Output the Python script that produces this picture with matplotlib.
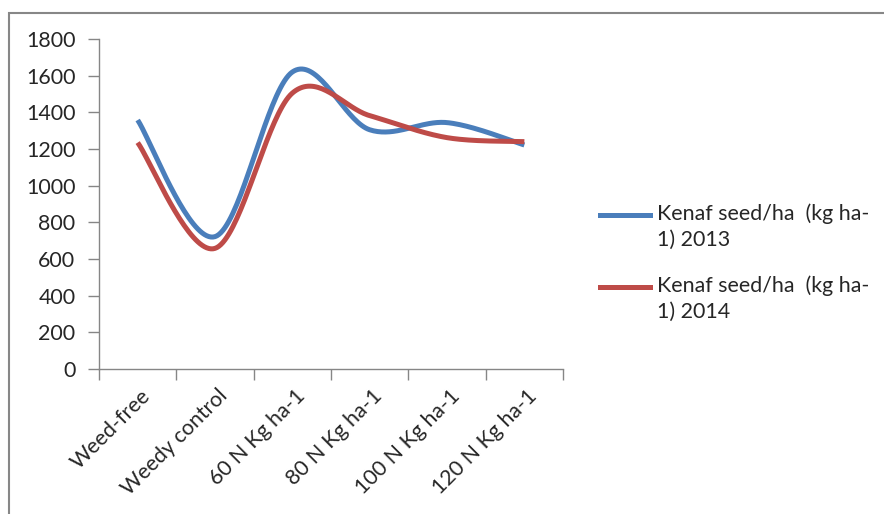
import numpy as np
import matplotlib
matplotlib.use("Agg")
import matplotlib.pyplot as plt
from matplotlib.lines import Line2D
from matplotlib.patches import Rectangle

categories = ["Weed-free", "Weedy control", "60 N Kg ha-1", "80 N Kg ha-1",
              "100 N Kg ha-1", "120 N Kg ha-1"]
seed_2013 = [1358, 722, 1620, 1305, 1344, 1222]
seed_2014 = [1235, 658, 1505, 1382, 1262, 1240]
series_labels = ["Kenaf seed/ha  (kg ha-\n1) 2013", "Kenaf seed/ha  (kg ha-\n1) 2014"]
yticks = [0, 200, 400, 600, 800, 1000, 1200, 1400, 1600, 1800]

BLUE = "#4A7EBB"
RED = "#BE4B48"
GRAY = "#868686"
TXT = "#262626"
FONT = "Lato"
FS = 15.4

plt.rcParams["font.family"] = [FONT, "DejaVu Sans"]


def smooth(xs, ys, n=40):
    """Excel-like Catmull-Rom (Bezier with 1/6 tension) smoothing."""
    P = np.column_stack([xs, ys]).astype(float)
    Pext = np.vstack([P[0], P, P[-1]])
    out = []
    for i in range(len(P) - 1):
        p0, p1, p2, p3 = Pext[i], Pext[i + 1], Pext[i + 2], Pext[i + 3]
        c1 = p1 + (p2 - p0) / 6.0
        c2 = p2 - (p3 - p1) / 6.0
        t = np.linspace(0, 1, n)[:, None]
        seg = ((1 - t) ** 3) * p1 + 3 * ((1 - t) ** 2) * t * c1 + 3 * (1 - t) * t ** 2 * c2 + t ** 3 * p2
        out.append(seg if i == 0 else seg[1:])
    s = np.vstack(out)
    return s[:, 0], s[:, 1]


fig = plt.figure(figsize=(8.84, 5.14), dpi=100)
W, H = 884, 514
ax = fig.add_axes([99 / W, 1 - 369 / H, 464 / W, 330 / H])

x = np.arange(len(categories))
for vals, col in [(seed_2013, BLUE), (seed_2014, RED)]:
    sx, sy = smooth(x, vals)
    ax.plot(sx, sy, color=col, lw=3.6, solid_capstyle="butt")

ax.set_xlim(-0.5, len(categories) - 0.5)
ax.set_ylim(0, 1800)
ax.set_yticks(yticks)
ax.set_yticklabels([str(v) for v in yticks], fontsize=FS, color=TXT, fontname=FONT)
ax.set_xticks(np.arange(-0.5, len(categories)), labels=[""] * (len(categories) + 1))
ax.set_xticks(x + 0.03, labels=categories, minor=True)
ax.tick_params(axis="x", which="minor", length=0, pad=12)
ax.tick_params(axis="x", which="major", length=8, width=1, color=GRAY, direction="out")
ax.tick_params(axis="y", length=8, width=1, color=GRAY, direction="out", pad=9)
for lab in ax.get_xticklabels(minor=True):
    lab.set_rotation(45)
    lab.set_ha("right")
    lab.set_va("top")
    lab.set_rotation_mode("anchor")
    lab.set_fontsize(FS)
    lab.set_color(TXT)
    lab.set_fontname(FONT)

for s in ["top", "right"]:
    ax.spines[s].set_visible(False)
for s in ["left", "bottom"]:
    ax.spines[s].set_color(GRAY)
    ax.spines[s].set_linewidth(1.0)

# legend drawn manually (line aligned to first text line)
leg_y = [215, 287]
for lab, col, yy in zip(series_labels, [BLUE, RED], leg_y):
    fig.add_artist(Line2D([600 / W, 650 / W], [1 - yy / H, 1 - yy / H],
                          color=col, lw=3.6, transform=fig.transFigure))
    fig.text(657 / W, 1 - (yy - 12) / H, lab, fontsize=FS, color=TXT,
             ha="left", va="top", linespacing=1.42, fontname=FONT)

# chart border
fig.add_artist(Rectangle((9 / W, -0.05), 1.2, 1 - 13 / H + 0.05,
                         transform=fig.transFigure, fill=False,
                         edgecolor="#878787", lw=1.5))

fig.savefig("out.png", dpi=100)
